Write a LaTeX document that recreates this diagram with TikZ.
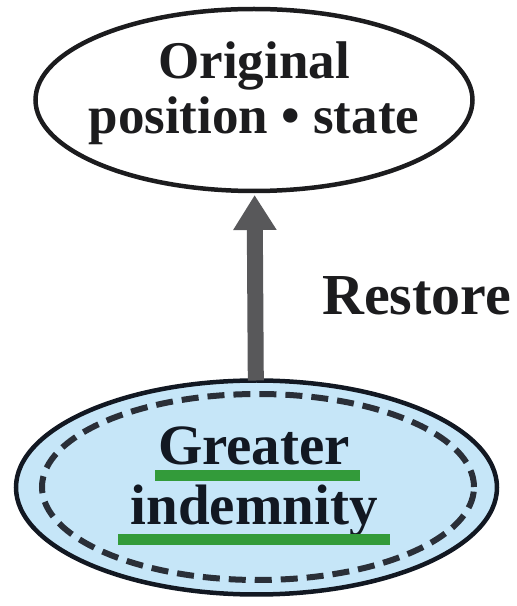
\documentclass[tikz,border=0pt]{standalone}
\usepackage{fontspec}
\setmainfont{Liberation Serif}
\usetikzlibrary{calc}
\usetikzlibrary{arrows.meta,shapes.geometric}

\definecolor{paleblue}{RGB}{198,230,248}
\definecolor{markgreen}{RGB}{51,155,58}
\definecolor{shaftgrey}{RGB}{88,88,90}
\definecolor{inkblack}{RGB}{28,28,30}
\definecolor{inknavy}{RGB}{18,24,34}

\begin{document}
\begin{tikzpicture}[x=1pt,y=1pt]
			\useasboundingbox (0,0) rectangle (517,606);

			\node[ellipse, draw=inkblack, line width=4.5pt, inner sep=0pt, outer sep=0pt, minimum width=437pt, minimum height=182pt] (orig) at (254,506) {};
			\node[ellipse, draw=inknavy, fill=paleblue, line width=4.5pt, inner sep=0pt, outer sep=0pt, minimum width=481pt, minimum height=214pt] (indem) at (256.5,118.5) {};
			\node[ellipse, draw=inknavy!90, line width=6pt, dash pattern=on 17pt off 9pt, inner sep=0pt, minimum width=432pt, minimum height=186pt] (indemin) at ($(indem)+(1.5,0.5)$) {};

			%texts
			\node[font=\fontsize{53}{55}\selectfont\bfseries, align=center, text=inkblack] (origtxt) at ($(orig)+(0,7)$) {Original\\position • state};
			\node[font=\fontsize{57}{60}\selectfont\bfseries, align=center, text=inknavy] (indemtxt) at ($(indem)+(-2.5,6)$) {Greater\\indemnity};
			\node[font=\fontsize{58}{60}\selectfont\bfseries, text=inkblack, anchor=base west, inner sep=0pt] (restore) at (322,291) {Restore};

			\fill[markgreen] (155,125) rectangle (360,136);
			\fill[markgreen] (118,61) rectangle (390,72);

			\draw[shaftgrey, line width=16pt, shorten >=4pt, -{Triangle[length=35pt,width=41pt]}] (indem) -- (orig);

\end{tikzpicture}
\end{document}
